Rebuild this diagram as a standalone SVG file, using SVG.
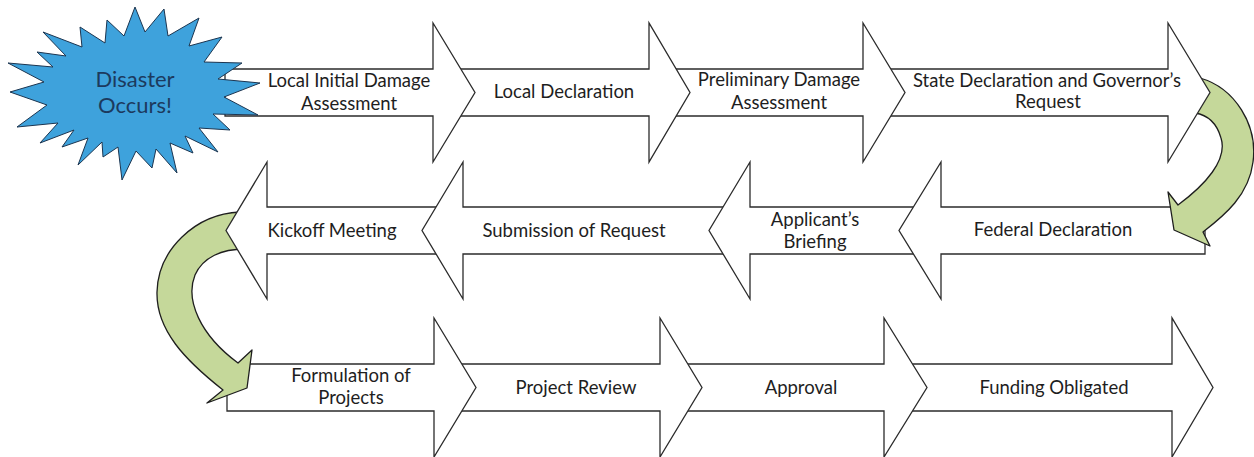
<svg xmlns="http://www.w3.org/2000/svg" width="1254" height="457" viewBox="0 0 1254 457">
<style>
.arr{fill:#ffffff;stroke:#2b2b2b;stroke-width:1.3;stroke-linejoin:miter}
.curve{fill:#c5d89a;stroke:#1e1e1e;stroke-width:1.3;stroke-linejoin:round}
.lbl{font-family:Lato,"Liberation Sans",sans-serif;font-size:18.5px;fill:#1e1e1e;text-anchor:middle}
.star{fill:#3ea2dc;stroke:#1c3550;stroke-width:1}
.startxt{font-family:Lato,"Liberation Sans",sans-serif;font-size:22px;fill:#1c3a5e;text-anchor:middle}
</style>
<rect width="1254" height="457" fill="#ffffff"/>

<!-- Row 3 -->
<g id="funding-obligated">
<polygon class="arr" points="896,364 1172,364 1172,318 1213,387.5 1172,457 1172,411 896,411"/>
<text class="lbl" x="1054" y="394">Funding Obligated</text>
</g>
<g id="approval">
<polygon class="arr" points="672,364 884,364 884,318 927,387.5 884,457 884,411 672,411"/>
<text class="lbl" x="801" y="394">Approval</text>
</g>
<g id="project-review">
<polygon class="arr" points="446,364 660,364 660,318 702,387.5 660,457 660,411 446,411"/>
<text class="lbl" x="576" y="394">Project Review</text>
</g>
<g id="formulation">
<polygon class="arr" points="227,364 434,364 434,318 476,387.5 434,457 434,411 227,411"/>
<text class="lbl" x="351" y="382">Formulation of</text>
<text class="lbl" x="351" y="404">Projects</text>
</g>

<g id="connectors">
<path id="curve-left" class="curve" d="M240,212 C195,214 158,250 157,292 C156,330 185,360 223,390 L207,403 L247,388 L252,350 L238,363 C200,335 185,300 195,275 C203,257 222,249 245,249 Z"/>
</g>

<!-- Row 2 -->
<g id="kickoff-meeting">
<polygon class="arr" points="452,207 267,207 267,162 226,230.5 267,299 267,254 452,254"/>
<text class="lbl" x="332" y="237">Kickoff Meeting</text>
</g>
<g id="submission-of-request">
<polygon class="arr" points="740,207 463,207 463,162 422,230.5 463,299 463,254 740,254"/>
<text class="lbl" x="574" y="237">Submission of Request</text>
</g>
<g id="applicants-briefing">
<polygon class="arr" points="930,207 750,207 750,162 709,230.5 750,299 750,254 930,254"/>
<text class="lbl" x="815" y="226">Applicant’s</text>
<text class="lbl" x="815" y="248">Briefing</text>
</g>
<g id="federal-declaration">
<polygon class="arr" points="1205,207 941,207 941,162 899,230.5 941,299 941,254 1205,254"/>
<text class="lbl" x="1053" y="236">Federal Declaration</text>
</g>

<g id="connectors-right">
<path id="curve-right" class="curve" d="M1200,78 C1235,88 1258,125 1253,162 C1249,195 1225,215 1203,232 L1210,246 L1174,230 L1168,192 L1178,205 C1205,185 1228,160 1221,138 C1217,124 1208,115 1195,113 Z"/>
</g>

<!-- Row 1 -->
<g id="state-declaration">
<polygon class="arr" points="875,69 1168,69 1168,23 1210,92.5 1168,162 1168,116 875,116"/>
<text class="lbl" x="1047" y="87">State Declaration and Governor’s</text>
<text class="lbl" x="1048" y="108">Request</text>
</g>
<g id="preliminary-damage-assessment">
<polygon class="arr" points="660,69 863,69 863,23 905,92.5 863,162 863,116 660,116"/>
<text class="lbl" x="779" y="86">Preliminary Damage</text>
<text class="lbl" x="779" y="109">Assessment</text>
</g>
<g id="local-declaration">
<polygon class="arr" points="445,69 649,69 649,23 690,92.5 649,162 649,116 445,116"/>
<text class="lbl" x="564" y="98">Local Declaration</text>
</g>
<g id="local-initial-damage-assessment">
<polygon class="arr" points="225,69 433,69 433,23 475,92.5 433,162 433,116 225,116"/>
<text class="lbl" x="349" y="87">Local Initial Damage</text>
<text class="lbl" x="349" y="110">Assessment</text>
</g>

<g id="disaster-occurs">
<polygon class="star" points="135,7 145,32 164,9 168,36 199,18 189,46 222,37 204,62 242,63 218,79 260,83 224,97 258,115 213,114 230,130 199,128 218,152 185,136 193,153 170,143 177,173 156,149 152,168 136,151 122,180 118,147 103,157 102,142 78,165 88,138 62,147 74,130 40,143 58,123 17,127 47,105 10,92 44,82 8,63 53,67 37,52 66,56 43,32 82,47 80,27 105,43 107,20 124,36"/>
<text class="startxt" x="135" y="87">Disaster</text>
<text class="startxt" x="135" y="113">Occurs!</text>
</g>
</svg>
